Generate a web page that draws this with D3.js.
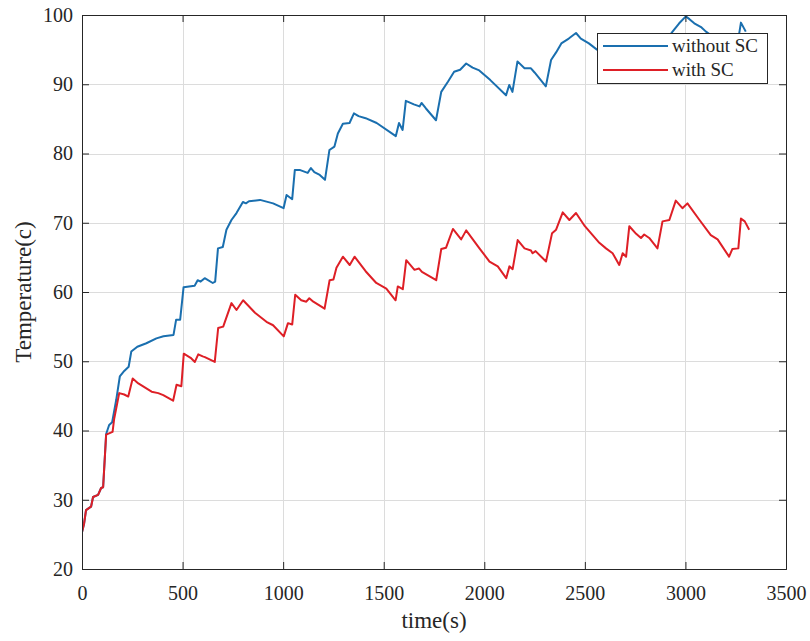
<!DOCTYPE html>
<html>
<head>
<meta charset="utf-8">
<script src="https://cdn.jsdelivr.net/npm/d3@7"></script>
<style>
  html, body { margin: 0; padding: 0; background: #fff; }
  svg { display: block; }
  text { font-family: "Liberation Serif", "Times New Roman", serif; fill: #262626; }
</style>
</head>
<body>
<svg id="chart" width="810" height="641"></svg>
<script>
// Temperature log, time in seconds
const timeWithout = [0,10,20,45,55,80,95,105,120,135,150,170,188,210,232,245,275,320,370,405,455,468,488,505,560,575,590,610,650,662,676,700,718,743,768,800,815,830,885,950,1002,1017,1045,1058,1085,1122,1138,1155,1182,1208,1230,1255,1272,1297,1330,1352,1375,1410,1465,1560,1576,1594,1610,1650,1678,1688,1710,1760,1786,1820,1850,1880,1910,1942,1975,2030,2108,2124,2140,2165,2200,2232,2250,2306,2332,2357,2383,2420,2456,2480,2520,2560,2610,2640,2690,2720,2780,2850,2880,2920,2936,2969,3002,3020,3044,3080,3102,3150,3200,3240,3260,3276,3300];
const tempWithout = [25.3,26.5,28.5,29.0,30.4,30.7,31.7,31.8,39.5,40.8,41.2,44.4,47.8,48.6,49.2,51.4,52.1,52.6,53.3,53.6,53.8,56.0,56.0,60.7,60.9,61.7,61.5,62.0,61.3,61.5,66.3,66.5,69.0,70.4,71.4,73.0,72.8,73.1,73.3,72.8,72.1,74.0,73.4,77.6,77.6,77.2,77.9,77.3,76.9,76.2,80.5,81.0,82.9,84.3,84.4,85.8,85.4,85.1,84.4,82.5,84.4,83.4,87.6,87.1,86.8,87.3,86.5,84.8,88.9,90.4,91.8,92.1,93.0,92.4,92.0,90.6,88.4,89.9,88.9,93.3,92.3,92.3,91.7,89.7,93.5,94.6,95.9,96.6,97.4,96.6,95.9,95.0,94.3,96.0,95.5,96.4,95.6,94.8,96.8,97.0,97.6,98.8,99.8,99.4,98.8,98.2,97.6,96.6,95.6,95.2,96.0,98.9,97.6];

const timeWith = [0,10,20,45,55,80,95,105,120,152,160,185,210,230,252,280,346,379,404,453,470,494,506,540,561,578,600,611,660,677,702,743,768,801,860,917,950,1003,1024,1045,1060,1090,1115,1130,1150,1206,1231,1250,1265,1297,1331,1355,1410,1463,1513,1559,1570,1595,1612,1653,1675,1690,1761,1786,1810,1844,1885,1910,1976,2026,2067,2109,2125,2141,2166,2200,2232,2240,2255,2307,2337,2357,2390,2423,2456,2500,2572,2605,2638,2671,2688,2705,2721,2755,2779,2795,2820,2861,2886,2920,2952,2985,3010,3070,3126,3160,3217,3233,3263,3276,3295,3317];
const tempWith = [25.3,26.5,28.5,29.0,30.4,30.7,31.7,31.8,39.4,39.8,41.7,45.4,45.2,44.9,47.5,46.8,45.6,45.4,45.1,44.3,46.6,46.4,51.1,50.5,49.9,51.0,50.7,50.6,49.9,54.8,55.0,58.4,57.4,58.8,57.0,55.7,55.2,53.6,55.5,55.3,59.6,58.8,58.6,59.1,58.6,57.6,61.7,61.8,63.5,65.1,63.9,65.1,63.0,61.3,60.5,58.8,60.8,60.4,64.6,63.2,63.4,62.9,61.7,66.2,66.4,69.1,67.6,68.9,66.3,64.4,63.7,62.0,63.7,63.3,67.5,66.3,66.0,65.6,65.9,64.4,68.5,69.0,71.5,70.4,71.4,69.5,67.1,66.3,65.6,63.9,65.6,65.1,69.5,68.4,67.8,68.3,67.8,66.3,70.2,70.4,73.2,72.1,72.8,70.4,68.2,67.6,65.1,66.2,66.3,70.6,70.2,69.0];

const xTicks = [0,500,1000,1500,2000,2500,3000,3500];
const yTicks = [20,30,40,50,60,70,80,90,100];
const seriesNames = ["without SC", "with SC"];
const seriesColors = ["#1a6faf", "#de1f26"];

const svg = d3.select("#chart");
const plotLeft = 82, plotRight = 786, plotTop = 15, plotBottom = 569;

const x = d3.scaleLinear().domain([0, 3500]).range([plotLeft, plotRight]);
const y = d3.scaleLinear().domain([20, 100]).range([plotBottom, plotTop]);

// grid
const grid = svg.append("g").attr("stroke", "#dcdcdc").attr("stroke-width", 1);
grid.selectAll("line.gx").data(xTicks.slice(1, -1)).join("line")
  .attr("x1", d => Math.round(x(d)) + 0.5).attr("x2", d => Math.round(x(d)) + 0.5)
  .attr("y1", plotTop).attr("y2", plotBottom);
grid.selectAll("line.gy").data(yTicks.slice(1, -1)).join("line")
  .attr("y1", d => Math.round(y(d)) + 0.5).attr("y2", d => Math.round(y(d)) + 0.5)
  .attr("x1", plotLeft).attr("x2", plotRight);

// data lines
svg.append("clipPath").attr("id", "plotClip").append("rect")
  .attr("x", plotLeft).attr("y", plotTop).attr("width", plotRight - plotLeft).attr("height", plotBottom - plotTop);

const line = d3.line().x(d => x(d[0])).y(d => y(d[1]));
const series = [
  d3.zip(timeWithout, tempWithout),
  d3.zip(timeWith, tempWith)
];
svg.append("g").attr("clip-path", "url(#plotClip)")
  .selectAll("path").data(series).join("path")
  .attr("d", line)
  .attr("fill", "none")
  .attr("stroke", (d, i) => seriesColors[i])
  .attr("stroke-width", 2)
  .attr("stroke-linejoin", "round");

// axes (box with inward ticks on all sides)
const tickLen = 7;
const axisColor = "#262626";
const fmt = d3.format("d");

svg.append("g").attr("transform", `translate(0,${plotBottom})`)
  .call(d3.axisBottom(x).tickValues(xTicks).tickSize(-tickLen).tickPadding(17).tickFormat(fmt))
  .call(g => g.select(".domain").attr("stroke", axisColor))
  .call(g => g.selectAll(".tick line").attr("stroke", axisColor))
  .call(g => g.selectAll(".tick text").attr("font-size", 20).attr("font-family", "Liberation Serif").attr("fill", axisColor).attr("dy", "0.71em"));

svg.append("g").attr("transform", `translate(0,${plotTop})`)
  .call(d3.axisTop(x).tickValues(xTicks).tickSize(-tickLen).tickFormat(""))
  .call(g => g.select(".domain").attr("stroke", axisColor))
  .call(g => g.selectAll(".tick line").attr("stroke", axisColor));

svg.append("g").attr("transform", `translate(${plotLeft},0)`)
  .call(d3.axisLeft(y).tickValues(yTicks).tickSize(-tickLen).tickPadding(9).tickFormat(fmt))
  .call(g => g.select(".domain").attr("stroke", axisColor))
  .call(g => g.selectAll(".tick line").attr("stroke", axisColor))
  .call(g => g.selectAll(".tick text").attr("font-size", 20).attr("font-family", "Liberation Serif").attr("fill", axisColor));

svg.append("g").attr("transform", `translate(${plotRight},0)`)
  .call(d3.axisRight(y).tickValues(yTicks).tickSize(-tickLen).tickFormat(""))
  .call(g => g.select(".domain").attr("stroke", axisColor))
  .call(g => g.selectAll(".tick line").attr("stroke", axisColor));

// axis titles
svg.append("text")
  .attr("x", (plotLeft + plotRight) / 2).attr("y", 628)
  .attr("text-anchor", "middle").attr("font-size", 23)
  .text("time(s)");

svg.append("text")
  .attr("transform", `translate(31,${(plotTop + plotBottom) / 2}) rotate(-90)`)
  .attr("text-anchor", "middle").attr("font-size", 23)
  .text("Temperature(c)");

// legend
const legend = svg.append("g").attr("transform", "translate(597,33)");
legend.append("rect")
  .attr("x", 0.5).attr("y", 0.5).attr("width", 170).attr("height", 50)
  .attr("fill", "#fff").attr("stroke", axisColor).attr("stroke-width", 1);
const rows = legend.selectAll("g.row").data(seriesNames).join("g")
  .attr("transform", (d, i) => `translate(0,${13 + i * 24})`);
rows.append("line")
  .attr("x1", 6).attr("x2", 71).attr("y1", 0).attr("y2", 0)
  .attr("stroke", (d, i) => seriesColors[i]).attr("stroke-width", 2);
rows.append("text")
  .attr("x", 75).attr("y", 6).attr("font-size", 19)
  .text(d => d);
</script>
</body>
</html>
